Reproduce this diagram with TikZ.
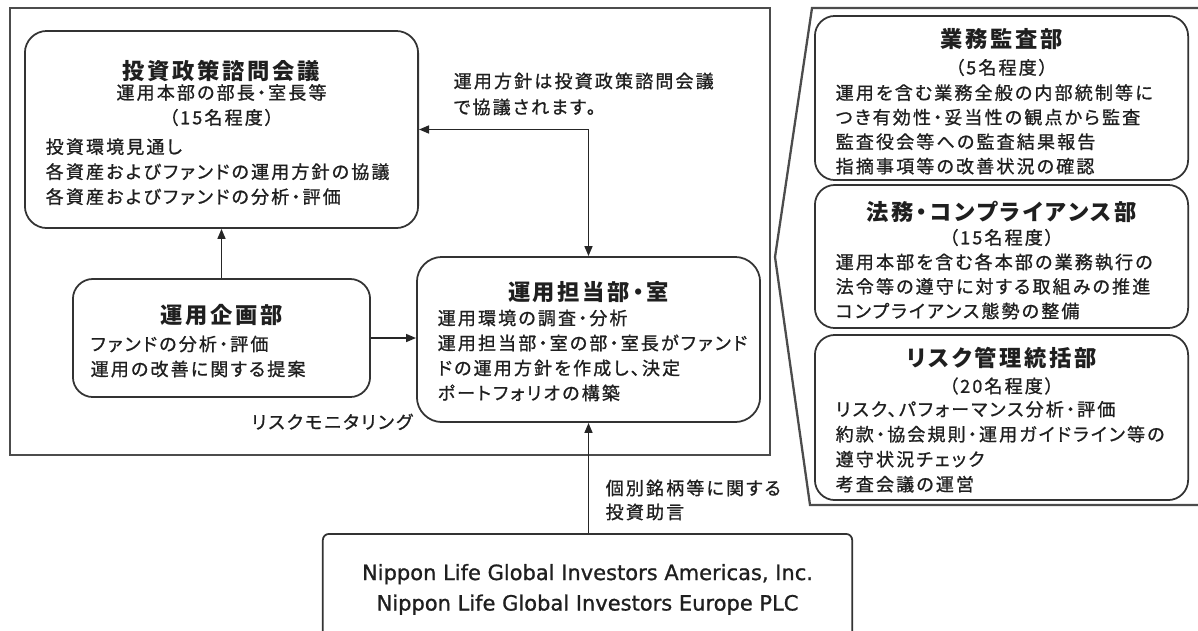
\documentclass[tikz,border=0pt]{standalone}
\usepackage{fontspec}
\setmainfont{Noto Sans CJK JP}[RawFeature=+palt, LetterSpace=12, UprightFeatures={FakeBold=1}]
\newfontfamily\latinfont{DejaVu Sans}[UprightFeatures={FakeBold=1}]
\usetikzlibrary{arrows.meta}

\begin{document}
\begin{tikzpicture}[
    x=0.01cm, y=-0.01cm,
    >={Triangle[length=0.1cm, width=0.08cm]},
    dept/.style={draw=black!80, line width=0.5pt, rounded corners=0.22cm},
    ttl/.style={anchor=base, inner sep=0pt, text=black!88, font=\fontsize{6.34pt}{7pt}\selectfont\bfseries},
    sub/.style={anchor=base, inner sep=0pt, text=black!88, font=\fontsize{5.12pt}{6pt}\selectfont},
    body/.style={sub, anchor=base west},
    eng/.style={anchor=base, inner sep=0pt, text=black!88, font=\latinfont\fontsize{5.97pt}{7pt}\selectfont},
    arr/.style={->, line width=0.45pt, draw=black!85},
    frame/.style={draw=black!70, line width=0.65pt}
]
\clip (0,0) rectangle (1198,630);

% Frames
\draw[frame] (10,8) rectangle (770,455);
\draw[frame] (1210,8) -- (812,8) -- (775,257) -- (810,505) -- (1210,505);

% Investment policy council
\node[dept, minimum width=3.93cm, minimum height=1.97cm] (council) at (221.5,129.5) {};
\node[ttl] (councilname) at (221.5,79.3) {投資政策諮問会議};
\node[sub] (councilmem) at (221.5,99.3) {運用本部の部長・室長等};
\node[sub] (councilnum) at (221.5,124.3) {（15名程度）};
\foreach \txt [count=\i] in {投資環境見通し, 各資産およびファンドの運用方針の協議, 各資産およびファンドの分析・評価}
    \node[body] (council\i) at (45,128.5+25*\i) {\txt};

% Planning department
\node[dept, rounded corners=0.2cm, minimum width=2.97cm, minimum height=1.18cm] (plan) at (221.5,338) {};
\node[ttl] (planname) at (221.5,323.5) {運用企画部};
\foreach \txt [count=\i] in {ファンドの分析・評価, 運用の改善に関する提案}
    \node[body] (plan\i) at (90,325.8+25*\i) {\txt};
\node[sub] (monitor) at (332,428.8) {リスクモニタリング};

% Investment departments
\node[dept, rounded corners=0.25cm, minimum width=3.43cm, minimum height=1.65cm] (ops) at (588.5,339.5) {};
\node[ttl] (opsname) at (588.5,300.5) {運用担当部・室};
\foreach \txt [count=\i] in {運用環境の調査・分析, 運用担当部・室の部・室長がファンド, ドの運用方針を作成し、決定, ポートフォリオの構築}
    \node[body] (ops\i) at (437,299.8+25*\i) {\txt};

\node[body] (policy1) at (453,87.8) {運用方針は投資政策諮問会議};
\node[body] (policy2) at (453,113.8) {で協議されます。};

% Audit
\node[dept, rounded corners=0.2cm, minimum width=3.73cm, minimum height=1.64cm] (audit) at (1001.5,98) {};
\node[ttl] (auditname) at (1001.5,47.5) {業務監査部};
\node[sub] (auditnum) at (1001.5,74.3) {（5名程度）};
\foreach \txt [count=\i] in {運用を含む業務全般の内部統制等に, つき有効性・妥当性の観点から監査, 監査役会等への監査結果報告, 指摘事項等の改善状況の確認}
    \node[body] (audit\i) at (835,75+24.5*\i) {\txt};

% Legal and compliance
\node[dept, rounded corners=0.2cm, minimum width=3.73cm, minimum height=1.43cm] (legal) at (1001.5,256.5) {};
\node[ttl] (legalname) at (1001.5,220.5) {法務・コンプライアンス部};
\node[sub] (legalnum) at (1001.5,244.3) {（15名程度）};
\foreach \txt [count=\i] in {運用本部を含む各本部の業務執行の, 法令等の遵守に対する取組みの推進, コンプライアンス態勢の整備}
    \node[body] (legal\i) at (835,244.3+24.5*\i) {\txt};

% Risk management
\node[dept, rounded corners=0.2cm, minimum width=3.73cm, minimum height=1.65cm] (risk) at (1001.5,417.5) {};
\node[ttl] (riskname) at (1001.5,366.5) {リスク管理統括部};
\node[sub] (risknum) at (1001.5,392.8) {（20名程度）};
\foreach \txt [count=\i] in {リスク、パフォーマンス分析・評価, 約款・協会規則・運用ガイドライン等の, 遵守状況チェック, 考査会議の運営}
    \node[body] (risk\i) at (835,391+25*\i) {\txt};

% Overseas subsidiaries
\node[dept, rounded corners=0.06cm, minimum width=5.29cm, minimum height=1.6cm] (adv) at (587.5,614) {};
\node[eng] (adv1) at (587.5,580) {Nippon Life Global Investors Americas, Inc.};
\node[eng] (adv2) at (587.5,610.5) {Nippon Life Global Investors Europe PLC};
\node[body] (advice1) at (605,494.8) {個別銘柄等に関する};
\node[body] (advice2) at (605,518.8) {投資助言};

% Connectors
\draw[arr] (plan.north) -- (council.south);
\draw[arr] (plan.east) -- (plan.east -| ops.west);
\draw[arr, <->] (council.east) -| (ops.north);
\draw[arr] (ops.south |- adv.north) -- (ops.south);

\end{tikzpicture}
\end{document}
